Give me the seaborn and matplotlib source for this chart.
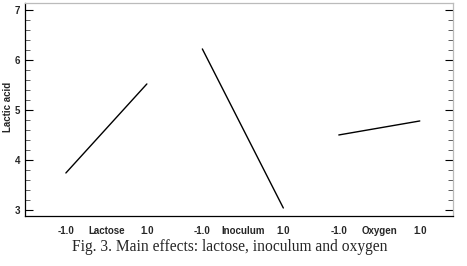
import matplotlib
matplotlib.use("Agg")
import matplotlib.pyplot as plt
from matplotlib.ticker import MultipleLocator
import seaborn as sns
import pandas as pd

factors = ["Lactose", "Inoculum", "Oxygen"]
levels = [-1.0, 1.0]
low_values = [3.74, 6.22, 4.50]
high_values = [5.52, 3.04, 4.78]
y_label = "Lactic acid"
caption = "Fig. 3. Main effects: lactose, inoculum and oxygen"

sns.set_style("white")
plt.rcParams['font.family'] = ['Liberation Sans', 'DejaVu Sans']

group_gap = 3.37
rows = []
for i, f in enumerate(factors):
    for lv, val in zip(levels, [low_values[i], high_values[i]]):
        rows.append({"factor": f, "x": lv + i * group_gap, "y": val})
df = pd.DataFrame(rows)

fig = plt.figure(figsize=(4.67, 2.66), dpi=100)
ax = fig.add_axes([0.0535, 0.188, 0.9165, 0.801])

for f in factors:
    sub = df[df["factor"] == f]
    sns.lineplot(data=sub, x="x", y="y", ax=ax, color="black", lw=1.0,
                 legend=False, sort=False)

ax.set_xlim(-2.01, 8.56)
ax.set_ylim(2.88, 7.14)

ticks = []
labels = []
for i, f in enumerate(factors):
    c = i * group_gap
    ticks += [c - 1, c, c + 1]
    labels += ["-1.0", f, "1.0"]
ax.set_xticks(ticks)
ax.set_xticklabels(labels, fontsize=7, fontweight="bold")
ax.tick_params(axis="x", length=0, pad=7)

ax.yaxis.set_major_locator(MultipleLocator(1))
ax.yaxis.set_minor_locator(MultipleLocator(0.2))
ax.tick_params(axis="y", which="major", direction="in", length=6, width=0.8,
               labelsize=7, left=True, right=True, color="black")
ax.tick_params(axis="y", which="minor", direction="in", length=3.5, width=0.6,
               left=True, right=True, color="#444444")
for lab in ax.get_yticklabels():
    lab.set_fontweight("bold")

ax.set_xlabel("")
ax.set_ylabel(y_label, fontsize=7, fontweight="bold")
ax.yaxis.set_label_coords(-0.029, 0.51)

for s in ["left", "bottom"]:
    ax.spines[s].set_color("black")
    ax.spines[s].set_linewidth(0.9)
for s in ["top", "right"]:
    ax.spines[s].set_color("#bbbbbb")
    ax.spines[s].set_linewidth(0.9)

fig.text(0.492, 0.072, caption, ha="center", va="center", fontsize=11.2,
         family=["Liberation Serif", "DejaVu Serif"])

fig.savefig("out.png", dpi=100)
